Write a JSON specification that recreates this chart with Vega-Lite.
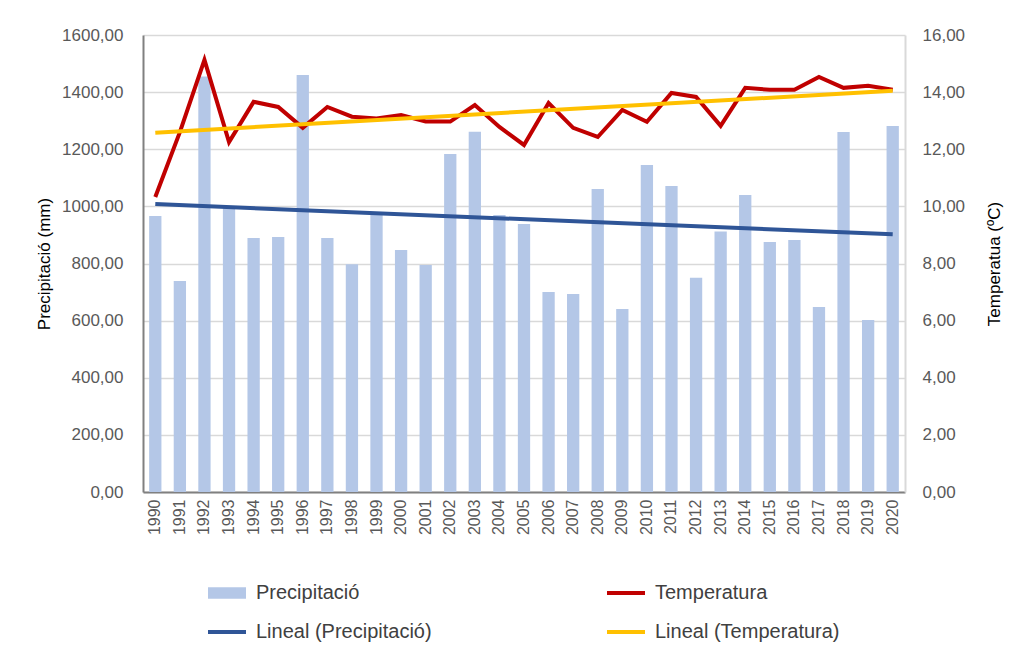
{
  "$schema": "https://vega.github.io/schema/vega-lite/v6.json",
  "width": 762,
  "height": 457,
  "autosize": {"type": "none"},
  "padding": {"left": 143, "top": 35, "right": 113, "bottom": 177},
  "background": "white",
  "config": {
    "view": {"stroke": null},
    "font": "Liberation Sans"
  },
  "datasets": {
    "main": [
      {"year": 1990, "precip": 966, "temp": 10.33},
      {"year": 1991, "precip": 739, "temp": 12.6},
      {"year": 1992, "precip": 1455, "temp": 15.13},
      {"year": 1993, "precip": 995, "temp": 12.25},
      {"year": 1994, "precip": 889, "temp": 13.66},
      {"year": 1995, "precip": 893, "temp": 13.48},
      {"year": 1996, "precip": 1460, "temp": 12.75},
      {"year": 1997, "precip": 889, "temp": 13.48},
      {"year": 1998, "precip": 797, "temp": 13.14},
      {"year": 1999, "precip": 970, "temp": 13.08},
      {"year": 2000, "precip": 847, "temp": 13.2},
      {"year": 2001, "precip": 795, "temp": 12.97},
      {"year": 2002, "precip": 1183, "temp": 12.97},
      {"year": 2003, "precip": 1261, "temp": 13.55},
      {"year": 2004, "precip": 970, "temp": 12.78},
      {"year": 2005, "precip": 938, "temp": 12.15},
      {"year": 2006, "precip": 700, "temp": 13.62},
      {"year": 2007, "precip": 693, "temp": 12.75},
      {"year": 2008, "precip": 1061, "temp": 12.43},
      {"year": 2009, "precip": 641, "temp": 13.38},
      {"year": 2010, "precip": 1145, "temp": 12.96},
      {"year": 2011, "precip": 1071, "temp": 13.97},
      {"year": 2012, "precip": 750, "temp": 13.83},
      {"year": 2013, "precip": 912, "temp": 12.82},
      {"year": 2014, "precip": 1040, "temp": 14.15},
      {"year": 2015, "precip": 875, "temp": 14.08},
      {"year": 2016, "precip": 882, "temp": 14.08},
      {"year": 2017, "precip": 648, "temp": 14.53},
      {"year": 2018, "precip": 1260, "temp": 14.15},
      {"year": 2019, "precip": 602, "temp": 14.22},
      {"year": 2020, "precip": 1281, "temp": 14.08}
    ],
    "trend": [
      {"year": 1990, "precip_trend": 1008, "temp_trend": 12.58},
      {"year": 2020, "precip_trend": 902, "temp_trend": 14.05}
    ]
  },
  "layer": [
    {
      "layer": [
        {
          "data": {"name": "main"},
          "mark": {"type": "bar", "color": "#b4c7e7"},
          "encoding": {
            "x": {
              "field": "year", "type": "ordinal",
              "scale": {"paddingInner": 0.5, "paddingOuter": 0.25},
              "axis": {
                "title": null, "labelAngle": -90, "labelFontSize": 16, "labelColor": "#595959",
                "ticks": false, "labelPadding": 7, "domainColor": "#808080", "domainWidth": 2, "grid": false
              }
            },
            "y": {
              "field": "precip", "type": "quantitative",
              "title": "Precipitació (mm)",
              "scale": {"domain": [0, 1600], "nice": false},
              "axis": {
                "values": [0, 200, 400, 600, 800, 1000, 1200, 1400, 1600],
                "labelExpr": "replace(format(datum.value, '.2f'), '.', ',')",
                "titleFontSize": 17, "titleFontWeight": "normal", "titleColor": "#000000", "titlePadding": 8,
                "labelFontSize": 17, "labelColor": "#595959", "labelPadding": 20, "ticks": false,
                "grid": true, "gridColor": "#d9d9d9", "gridWidth": 1.5,
                "domainColor": "#808080", "domainWidth": 2
              }
            },
            "color": {
              "datum": "Precipitació", "type": "nominal",
              "scale": {
                "domain": ["Precipitació", "Temperatura", "Lineal (Precipitació)", "Lineal (Temperatura)"],
                "range": ["#b4c7e7", "#c00000", "#2f5597", "#ffc000"]
              },
              "legend": {
                "orient": "none", "legendX": 74, "legendY": 548,
                "direction": "horizontal",
                "columns": 2, "columnPadding": 167, "rowPadding": 19,
                "title": null, "labelFontSize": 20, "labelColor": "#404040", "labelLimit": 400,
                "symbolSize": 1444, "labelOffset": 19,
                "encode": {
                  "symbols": {
                    "update": {
                      "shape": {"signal": "datum.value === 'Precipitació' ? 'M-1,-0.3H1V0.3H-1Z' : 'stroke'"},
                      "fill": {"signal": "datum.value === 'Precipitació' ? '#b4c7e7' : 'transparent'"},
                      "stroke": {"signal": "datum.value === 'Precipitació' ? '#b4c7e7' : datum.value === 'Temperatura' ? '#c00000' : datum.value === 'Lineal (Precipitació)' ? '#2f5597' : '#ffc000'"},
                      "strokeWidth": {"signal": "datum.value === 'Precipitació' ? 0 : 4"},
                      "opacity": {"value": 1}
                    }
                  }
                }
              }
            }
          }
        },
        {
          "data": {"name": "trend"},
          "mark": {"type": "line", "strokeWidth": 4},
          "encoding": {
            "x": {"field": "year", "type": "ordinal"},
            "y": {"field": "precip_trend", "type": "quantitative", "title": "Precipitació (mm)"},
            "color": {"datum": "Lineal (Precipitació)", "type": "nominal"}
          }
        }
      ]
    },
    {
      "layer": [
        {
          "data": {"name": "main"},
          "mark": {"type": "line", "strokeWidth": 4},
          "encoding": {
            "x": {"field": "year", "type": "ordinal"},
            "y": {
              "field": "temp", "type": "quantitative",
              "title": "Temperatua (ºC)",
              "scale": {"domain": [0, 16], "nice": false},
              "axis": {
                "orient": "right",
                "values": [0, 2, 4, 6, 8, 10, 12, 14, 16],
                "labelExpr": "replace(format(datum.value, '.2f'), '.', ',')",
                "titleFontSize": 17, "titleFontWeight": "normal", "titleColor": "#000000", "titlePadding": 39,
                "titleAngle": 270,
                "labelFontSize": 17, "labelColor": "#595959", "labelPadding": 17, "ticks": false,
                "grid": false, "domainColor": "#d9d9d9", "domainWidth": 2
              }
            },
            "color": {"datum": "Temperatura", "type": "nominal"}
          }
        },
        {
          "data": {"name": "trend"},
          "mark": {"type": "line", "strokeWidth": 4},
          "encoding": {
            "x": {"field": "year", "type": "ordinal"},
            "y": {"field": "temp_trend", "type": "quantitative", "title": "Temperatua (ºC)"},
            "color": {"datum": "Lineal (Temperatura)", "type": "nominal"}
          }
        }
      ]
    }
  ],
  "resolve": {"scale": {"y": "independent"}}
}
